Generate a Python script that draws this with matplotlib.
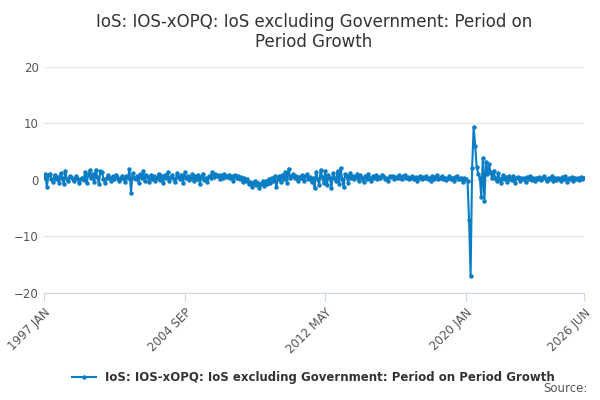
import matplotlib
matplotlib.use("Agg")
import matplotlib.pyplot as plt
import numpy as np

title = "IoS: IOS-xOPQ: IoS excluding Government: Period on\nPeriod Growth"
series_name = "IoS: IOS-xOPQ: IoS excluding Government: Period on Period Growth"
tick_labels = ["1997 JAN", "2004 SEP", "2012 MAY", "2020 JAN", "2026 JUN"]
tick_index = [0, 92, 184, 276, 353]

values = [
 # 1997
 0.3, 1.0, -1.2, 0.8, 1.1, 0.2, -0.4, 0.9, 0.1, 0.5, -0.6, 1.2,
 # 1998
 0.4, -0.8, 1.5, 0.2, -0.3, 0.7, 0.5, 0.1, -0.2, 0.6, 0.3, -0.5,
 # 1999
 0.2, 0.4, -0.1, 1.3, -0.6, 0.9, 1.7, 0.3, 1.1, -0.4, 1.8, 0.5,
 # 2000
 -0.7, 1.5, 1.4, 0.2, -0.6, 0.4, 0.8, 0.3, -0.2, 0.6, 0.1, 0.9,
 # 2001
 0.5, -0.3, 0.2, 0.7, 0.4, -0.4, 0.6, 0.3, 1.9, -2.3, 1.2, 0.4,
 # 2002
 0.1, 0.7, -0.5, 1.0, 0.3, 1.6, -0.2, 0.8, 0.5, -0.4, 0.9, 0.2,
 # 2003
 0.6, -0.3, 0.4, 1.1, 0.0, 0.7, -0.6, 0.9, 0.3, 1.4, -0.2, 0.5,
 # 2004
 0.8, 0.2, -0.4, 1.2, 0.5, 0.1, 0.9, -0.5, 1.3, 0.3, 0.6, -0.1,
 # 2005
 0.4, 1.0, -0.3, 0.6, 0.2, 0.9, -0.7, 0.5, 1.1, 0.0, 0.4, -0.4,
 # 2006
 0.7, 0.3, 1.4, 0.5, 1.1, 0.6, 0.9, 0.2, 0.8, 0.4, 1.0, 0.6,
 # 2007
 0.5, 0.9, 0.3, 0.7, -0.2, 0.8, 0.4, 0.6, 0.1, 0.5, -0.4, 0.3,
 # 2008
 -0.3, 0.2, -0.8, -0.4, -1.2, -0.6, -0.2, -1.0, -0.5, -1.5, -0.7, -0.3,
 # 2009
 -1.1, -0.2, -0.8, 0.2, -0.5, 0.4, -0.3, 0.6, -1.2, 0.1, 0.7, -0.4,
 # 2010
 0.9, 0.2, 1.3, -0.5, 2.0, 0.4, 0.6, 1.0, 0.3, 0.7, -0.2, 0.5,
 # 2011
 0.4, 0.8, -0.3, 0.6, 1.0, 0.2, 0.5, -0.4, 0.3, -1.5, 1.4, 0.1,
 # 2012
 -0.9, 1.8, 0.5, -0.6, 1.5, -1.0, 0.8, 0.3, -1.4, 1.2, 0.4, -0.2,
 # 2013
 1.6, -0.8, 2.1, 0.2, -1.3, 1.0, 0.6, -0.5, 1.2, 0.3, 0.7, 0.1,
 # 2014
 0.5, 1.1, -0.3, 0.8, 0.4, -0.4, 0.7, 0.2, 1.0, 0.3, -0.2, 0.6,
 # 2015
 0.4, 0.8, 0.1, 0.5, 0.3, 0.9, 0.6, 0.2, 0.4, -0.3, 0.6, 0.5,
 # 2016
 0.7, 0.2, 0.5, 0.3, 0.8, 0.4, 0.1, 0.6, 0.9, 0.3, 0.5, 0.2,
 # 2017
 0.3, 0.6, 0.2, 0.5, -0.2, 0.4, 0.7, 0.1, 0.5, 0.3, 0.6, 0.2,
 # 2018
 0.4, -0.3, 0.6, 0.2, 0.5, 0.8, 0.1, 0.3, 0.6, 0.2, 0.4, -0.1,
 # 2019
 0.3, 0.6, 0.1, 0.4, -0.2, 0.5, 0.7, 0.2, 0.1, 0.4, -0.4, 0.3,
 # 2020
 0.1, -0.3, -7.2, -17.1, 2.1, 9.4, 6.0, 2.2, 1.1, 0.4, -3.0, 3.9,
 # 2021
 -3.8, 3.2, 1.0, 2.8, 1.4, 0.3, 1.6, 0.4, -0.3, 1.2, 0.2, -0.6,
 # 2022
 0.8, 0.1, 0.5, -0.4, 0.7, 0.2, -0.1, 0.6, -0.5, 0.3, 0.5, -0.2,
 # 2023
 0.4, 0.1, 0.3, -0.4, 0.5, 0.2, 0.6, 0.0, 0.3, -0.2, 0.4, 0.1,
 # 2024
 0.5, -0.1, 0.3, 0.7, 0.2, -0.3, 0.4, 0.1, 0.6, -0.2, 0.3, 0.0,
 # 2025
 0.4, 0.2, -0.3, 0.5, 0.1, 0.6, -0.4, 0.3, 0.2, 0.5, -0.2, 0.4,
 # 2026
 0.1, 0.3, -0.1, 0.5, 0.2, 0.4,
]

color = "#0a7dc4"
fig = plt.figure(figsize=(6, 4), dpi=100)
ax = fig.add_axes([0.073, 0.268, 0.9, 0.565])
x = np.arange(len(values))
ax.plot(x, values, color=color, lw=1.5, marker="o", ms=2.2)
ax.set_xlim(0, 353)
ax.set_ylim(-20, 20)
ax.set_yticks([-20, -10, 0, 10, 20])
ax.set_xticks(tick_index)
ax.set_xticklabels(tick_labels, rotation=45, ha="right", rotation_mode="anchor")
ax.tick_params(axis="both", labelsize=8.5, colors="#555555", length=0)
ax.tick_params(axis="x", length=6, color="#ccd6eb")
ax.yaxis.grid(True, color="#e6e6e6", lw=1)
for s in ["top", "right", "left"]:
    ax.spines[s].set_visible(False)
ax.spines["bottom"].set_color("#ccd6eb")
ax.set_title(title, fontsize=12, color="#333333", pad=14)
ax.legend([ax.lines[0]], [series_name], loc="upper center", bbox_to_anchor=(0.5, -0.3),
          frameon=False, prop={"size": 8.5, "weight": "bold"}, handlelength=2,
          labelcolor="#333333")
fig.text(0.98, 0.02, "Source:", ha="right", fontsize=8.5, color="#555555")
fig.savefig("out.png")
